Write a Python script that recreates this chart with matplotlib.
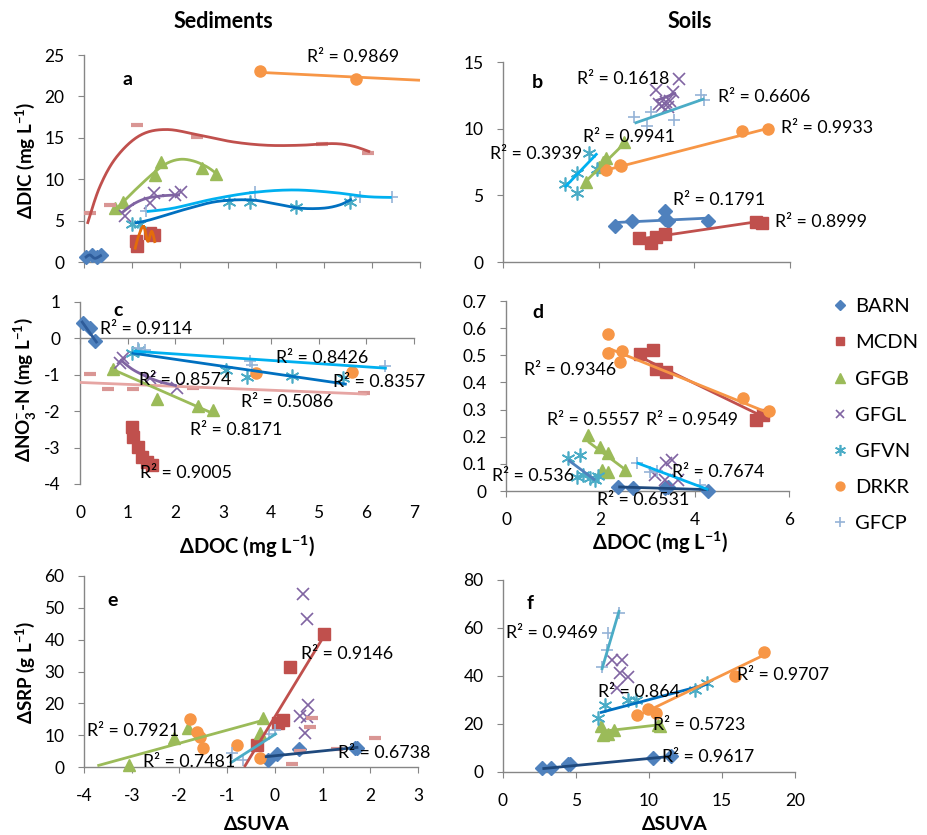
import numpy as np
import matplotlib
matplotlib.use("Agg")
import matplotlib.pyplot as plt
from matplotlib.lines import Line2D

plt.rcParams['font.family'] = ['Lato', 'DejaVu Sans']
plt.rcParams['font.size'] = 12
plt.rcParams['axes.unicode_minus'] = False
plt.rcParams['mathtext.fontset'] = 'custom'
plt.rcParams['mathtext.rm'] = 'Lato'
plt.rcParams['mathtext.bf'] = 'Lato:bold'

sites = ['BARN', 'MCDN', 'GFGB', 'GFGL', 'GFVN', 'DRKR', 'GFCP']

# --- a: sediments, DIC vs DOC ---
a_pts = {
    'BARN': ([0.05, 0.17, 0.27, 0.35], [0.6, 0.8, 0.6, 0.8]),
    'MCDN': ([1.08, 1.1, 1.38, 1.45], [2.5, 1.9, 3.5, 3.3]),
    'GFGB': ([0.65, 0.82, 1.48, 1.6, 2.45, 2.75], [6.5, 7.3, 10.5, 12.1, 11.3, 10.6]),
    'GFGL': ([0.85, 1.38, 1.46, 1.9, 2.03], [5.5, 7.1, 8.3, 8.1, 8.4]),
    'GFVN': ([1.01, 1.17, 3.03, 3.46, 4.42, 5.54], [4.6, 4.6, 7.3, 7.3, 6.6, 7.3]),
    'DRKR': ([3.67, 5.67], [23.1, 22.1]),
    'GFCP': ([1.3, 3.56, 5.75, 6.41], [6.1, 8.5, 7.9, 7.8]),
    'GFHC': ([0.13, 0.54, 1.1, 2.35, 4.95, 5.92], [5.9, 6.9, 16.6, 15.1, 14.3, 13.2]),
}
a_fit = {
    'GFHC': ([0.07, 0.33, 0.68, 1.17, 1.72, 2.42, 3.11, 3.8, 4.5, 5.19, 5.6, 5.96],
             [4.6, 9.1, 12.7, 15.3, 16.0, 15.3, 14.5, 14.1, 14.1, 14.3, 14.0, 13.3]),
    'GFGB': ([0.65, 1.03, 1.44, 1.72, 2.0, 2.28, 2.56, 2.8],
             [6.3, 8.5, 10.7, 11.9, 12.4, 12.2, 11.5, 10.5]),
    'GFGL': ([0.78, 1.03, 1.31, 1.65, 2.0], [5.9, 7.0, 7.7, 8.0, 8.1]),
    'GFVN': ([1.06, 1.38, 2.07, 2.76, 3.46, 4.01, 4.5, 4.99, 5.33, 5.58],
             [4.7, 5.1, 6.3, 7.3, 7.5, 7.0, 6.5, 6.5, 6.9, 7.6]),
    'GFCP': ([1.31, 1.86, 2.69, 3.53, 4.36, 5.19, 5.89, 6.41],
             [6.1, 6.5, 7.6, 8.4, 8.7, 8.4, 7.9, 7.8]),
    'DRKR': ([3.67, 7.0], [22.9, 21.95]),
    'MCDN': ([1.06, 1.13, 1.24, 1.33, 1.41, 1.48], [1.5, 3.0, 4.3, 2.5, 3.7, 2.3]),
    'BARN': ([0.02, 0.12, 0.23, 0.37], [0.5, 0.85, 0.45, 0.85]),
}
a_r2 = [(4.65, 24.8, '0.9869')]

# --- b: soils, DIC vs DOC ---
b_pts = {
    'BARN': ([2.35, 2.7, 3.38, 3.38, 3.45, 4.28], [2.7, 3.1, 3.8, 3.2, 3.1, 3.1]),
    'MCDN': ([2.84, 3.1, 3.19, 3.38, 5.28, 5.41], [1.83, 1.45, 1.88, 2.08, 3.03, 2.9]),
    'GFGB': ([1.74, 2.0, 2.1, 2.16, 2.54], [6.0, 7.1, 7.5, 7.8, 9.0]),
    'GFGL': ([3.2, 3.27, 3.33, 3.4, 3.45, 3.55, 3.67, 3.5],
             [12.87, 11.86, 11.7, 12.0, 11.6, 12.74, 13.74, 12.1]),
    'GFVN': ([1.29, 1.55, 1.55, 1.8, 1.96], [5.84, 6.67, 5.17, 8.2, 6.97]),
    'DRKR': ([2.16, 2.44, 2.47, 5.0, 5.55], [6.9, 7.3, 7.17, 9.8, 9.98]),
    'GFCP': ([2.73, 3.0, 3.1, 3.58, 4.14, 4.21], [10.86, 10.23, 11.24, 10.66, 12.49, 12.16]),
}
b_fit = {
    'BARN': ([2.35, 4.28], [2.96, 3.29]),
    'MCDN': ([2.82, 5.42], [1.7, 3.08]),
    'GFGB': ([1.71, 2.58], [5.97, 9.05]),
    'GFGL': ([3.2, 3.62], [12.1, 12.67]),
    'GFVN': ([1.29, 1.97], [5.6, 8.15]),
    'DRKR': ([2.16, 5.55], [6.9, 10.03]),
    'GFCP': ([2.75, 4.21], [10.41, 12.24]),
}
b_r2 = [(1.54, 13.7, '0.1618'), (4.5, 12.4, '0.6606'), (5.81, 10.07, '0.9933'),
        (1.67, 9.35, '0.9941'), (-0.27, 8.1, '0.3939'), (3.56, 4.65, '0.1791'),
        (5.69, 3.02, '0.8999')]

# --- c: sediments, NO3-N vs DOC ---
c_pts = {
    'BARN': ([0.07, 0.21, 0.31], [0.42, 0.28, -0.08]),
    'MCDN': ([1.08, 1.12, 1.22, 1.29, 1.4, 1.5], [-2.44, -2.71, -2.98, -3.25, -3.39, -3.48]),
    'GFGB': ([0.7, 1.61, 2.48, 2.79], [-0.85, -1.67, -1.85, -1.96]),
    'GFGL': ([0.84, 0.9, 1.47, 2.03], [-0.67, -0.55, -1.08, -1.35]),
    'GFVN': ([1.08, 1.22, 3.07, 3.49, 4.44, 5.52], [-0.4, -0.33, -0.88, -1.06, -1.03, -1.1]),
    'DRKR': ([3.69, 5.7], [-0.94, -0.91]),
    'GFCP': ([1.22, 1.36, 3.57, 3.6, 6.4], [-0.27, -0.31, -0.62, -0.72, -0.76]),
    'GFHC': ([0.21, 0.59, 1.12, 2.36, 5.96], [-0.99, -1.39, -1.39, -1.37, -1.51]),
}
c_fit = {
    'GFHC': ([0.0, 6.01], [-1.21, -1.53]),
    'BARN': ([0.03, 0.36], [0.48, -0.13]),
    'MCDN': ([1.05, 1.54], [-2.44, -3.57]),
    'GFGB': ([0.63, 2.8], [-0.82, -2.07]),
    'GFGL': ([0.84, 1.1, 1.4, 1.7, 2.03], [-0.58, -0.85, -1.05, -1.2, -1.3]),
    'GFVN': ([1.08, 5.59], [-0.4, -1.26]),
    'GFCP': ([1.12, 6.43], [-0.35, -0.82]),
}
c_r2 = [(0.42, 0.26, '0.9114'), (4.11, -0.55, '0.8426'), (1.24, -1.15, '0.8574'),
        (5.31, -1.21, '0.8357'), (3.37, -1.76, '0.5086'), (2.31, -2.53, '0.8171'),
        (1.26, -3.7, '0.9005')]

# --- d: soils, NO3-N vs DOC ---
d_pts = {
    'BARN': ([2.38, 2.7, 3.37, 3.44, 4.29], [0.016, 0.01, 0.01, 0.016, 0.0]),
    'MCDN': ([2.84, 3.12, 3.19, 3.4, 5.31, 5.45], [0.505, 0.52, 0.448, 0.44, 0.26, 0.28]),
    'GFGB': ([1.74, 1.99, 2.17, 2.03, 2.17, 2.52], [0.206, 0.163, 0.139, 0.077, 0.071, 0.077]),
    'GFGL': ([3.16, 3.37, 3.4, 3.51, 3.65], [0.059, 0.04, 0.102, 0.114, 0.04]),
    'GFVN': ([1.32, 1.57, 1.5, 1.64, 1.78, 1.89, 1.95],
             [0.12, 0.133, 0.05, 0.06, 0.047, 0.04, 0.055]),
    'DRKR': ([2.17, 2.17, 2.45, 2.42, 5.03, 5.58], [0.577, 0.507, 0.514, 0.477, 0.341, 0.295]),
    'GFCP': ([2.77, 3.05, 3.2, 4.11], [0.104, 0.071, 0.075, 0.022]),
}
d_fit = {
    'BARN': ([2.38, 4.29], [0.015, 0.005]),
    'MCDN': ([2.77, 5.45], [0.50, 0.274]),
    'DRKR': ([2.17, 5.59], [0.526, 0.286]),
    'GFGB': ([1.74, 2.59], [0.182, 0.071]),
    'GFVN': ([1.32, 1.89], [0.114, 0.04]),
    'GFCP': ([2.77, 4.29], [0.104, 0.005]),
}
d_r2 = [(0.39, 0.446, '0.9346'), (0.875, 0.262, '0.5557'), (2.96, 0.262, '0.9549'),
        (-0.3, 0.055, '0.536'), (3.53, 0.071, '0.7674'), (1.92, -0.033, '0.6531')]

# --- e: sediments, SRP vs SUVA ---
e_pts = {
    'BARN': ([-0.14, 0.04, 0.51, 1.69, 1.72], [2.2, 4.1, 5.6, 5.9, 6.0]),
    'MCDN': ([-0.38, 0.07, 0.18, 0.32, 1.02], [6.9, 13.9, 14.8, 31.3, 41.8]),
    'GFGB': ([-3.05, -2.11, -1.81, -0.31, -0.24], [0.6, 9.0, 12.1, 10.6, 15.3]),
    'GFGL': ([0.6, 0.67, 0.7, 0.53, 0.67, 0.63], [54.3, 46.4, 19.5, 16.0, 15.8, 10.6]),
    'DRKR': ([-1.78, -1.64, -1.57, -1.5, -0.8, -0.32], [15.0, 11.1, 9.5, 5.9, 6.8, 2.7]),
    'GFCP': ([-0.9, -0.66, -0.13, 0.01], [4.5, 2.2, 10.4, 11.6]),
    'GFHC': ([0.35, 0.53, 0.74, 0.77, 1.3, 2.1], [0.8, 5.0, 12.7, 15.5, 5.8, 9.2]),
}
e_fit = {
    'BARN': ([-0.21, 1.75], [3.2, 6.2]),
    'MCDN': ([-0.64, 1.02], [0.0, 40.9]),
    'GFGB': ([-3.72, -0.24], [0.4, 14.7]),
    'GFCP': ([-0.94, 0.04], [1.2, 10.6]),
}
e_r2 = [(0.54, 35.4, '0.9146'), (-3.93, 11.4, '0.7921'), (-2.76, 1.7, '0.7481'),
        (1.33, 4.5, '0.6738')]

# --- f: soils, SRP vs SUVA ---
f_pts = {
    'BARN': ([2.7, 3.3, 4.46, 4.6, 10.3, 11.5], [1.7, 1.7, 3.5, 3.2, 5.8, 6.5]),
    'GFGB': ([6.74, 6.86, 7.2, 7.6, 10.6, 10.74], [19.0, 15.3, 16.0, 17.6, 19.7, 19.2]),
    'GFGL': ([7.44, 8.13, 8.0, 8.58, 7.79], [46.7, 46.7, 41.1, 39.4, 34.9]),
    'GFVN': ([6.53, 6.99, 8.58, 9.14, 13.15, 13.95], [22.4, 27.9, 30.0, 30.1, 34.2, 37.0]),
    'DRKR': ([9.16, 9.95, 10.5, 15.9, 17.9], [23.6, 26.1, 24.5, 39.8, 50.2]),
    'GFCP': ([6.76, 7.1, 7.21, 7.97], [43.9, 50.8, 57.8, 66.2]),
}
f_fit = {
    'BARN': ([2.7, 11.5], [1.4, 6.5]),
    'GFGB': ([6.74, 10.74], [16.9, 19.7]),
    'GFVN': ([6.64, 14.06], [24.7, 36.7]),
    'DRKR': ([9.14, 17.9], [23.2, 48.8]),
    'GFCP': ([6.76, 7.97], [42.5, 67.5]),
}
f_r2 = [(0.2, 58, '0.9469'), (16.0, 40.4, '0.9707'), (6.48, 33.5, '0.864'),
        (10.3, 19.6, '0.5723'), (10.87, 6.4, '0.9617')]

# marker styles per site
mstyle = {
    'BARN': dict(marker='D', color='#4F81BD', ms=7),
    'MCDN': dict(marker='s', color='#C0504D', ms=8),
    'GFGB': dict(marker='^', color='#9BBB59', ms=9),
    'GFGL': dict(marker='x', color='#8064A2', ms=8, mew=1.2),
    'GFVN': dict(marker=(6, 2, 0), color='#4BACC6', ms=10, mew=1.2),
    'DRKR': dict(marker='o', color='#F79646', ms=8),
    'GFCP': dict(marker='+', color='#95B3D7', ms=9, mew=1.2),
    'GFHC': dict(marker='_', color='#D99694', ms=8, mew=3),
}

# trendline colours per panel
a_col = {'GFHC': '#C0504D', 'GFGB': '#9BBB59', 'GFGL': '#8064A2', 'GFVN': '#0070C0',
         'GFCP': '#00B0F0', 'DRKR': '#F79646', 'MCDN': '#E46C0A', 'BARN': '#2E5C9A'}
b_col = {'BARN': '#4F81BD', 'MCDN': '#C0504D', 'GFGB': '#9BBB59', 'GFGL': '#8064A2',
         'GFVN': '#00B0F0', 'DRKR': '#F79646', 'GFCP': '#4BACC6'}
c_col = {'GFHC': '#E6A5A3', 'BARN': '#2E5C9A', 'MCDN': '#C0504D', 'GFGB': '#9BBB59',
         'GFGL': '#8064A2', 'GFVN': '#0070C0', 'GFCP': '#00B0F0'}
d_col = {'BARN': '#1F497D', 'MCDN': '#C0504D', 'DRKR': '#F79646', 'GFGB': '#9BBB59',
         'GFVN': '#4F81BD', 'GFCP': '#00B0F0'}
e_col = {'BARN': '#1F497D', 'MCDN': '#C0504D', 'GFGB': '#9BBB59', 'GFCP': '#4BACC6'}
f_col = {'BARN': '#1F497D', 'GFGB': '#9BBB59', 'GFVN': '#0070C0', 'DRKR': '#F79646',
         'GFCP': '#4BACC6'}


def smooth(xs, ys, n=24):
    # Catmull-Rom curve through the trendline points
    P = np.column_stack([xs, ys]).astype(float)
    if len(P) < 3:
        return P[:, 0], P[:, 1]
    P = np.vstack([P[0], P, P[-1]])
    t = np.linspace(0, 1, n)[:, None]
    segs = []
    for i in range(1, len(P) - 2):
        p0, p1, p2, p3 = P[i - 1], P[i], P[i + 1], P[i + 2]
        segs.append(0.5 * (2 * p1 + (-p0 + p2) * t + (2 * p0 - 5 * p1 + 4 * p2 - p3) * t ** 2
                           + (-p0 + 3 * p1 - 3 * p2 + p3) * t ** 3))
    S = np.vstack(segs)
    return S[:, 0], S[:, 1]


def style_axes(ax, xlim, xticks, ylim, yticks, xlabels=True):
    ax.set_xlim(*xlim)
    ax.set_ylim(*ylim)
    ax.set_xticks(xticks)
    ax.set_yticks(yticks)
    for s in ['top', 'right']:
        ax.spines[s].set_visible(False)
    for s in ['left', 'bottom']:
        ax.spines[s].set_color('#868686')
        ax.spines[s].set_linewidth(1.0)
    ax.tick_params(direction='out', length=4, color='#868686', labelsize=12.5)
    ax.tick_params(axis='y', pad=10)
    ax.tick_params(axis='x', pad=11)
    if not xlabels:
        ax.tick_params(axis='x', labelbottom=False)


def draw(ax, pts, fits, cols, r2):
    for name, (x, y) in pts.items():
        st = dict(mstyle[name])
        ax.plot(x, y, linestyle='none', marker=st.pop('marker'), color=st.pop('color'),
                ms=st.pop('ms'), clip_on=False, zorder=3, **st)
    for name, (x, y) in fits.items():
        sx, sy = smooth(x, y)
        ax.plot(sx, sy, color=cols[name], lw=2, solid_capstyle='butt', zorder=4, clip_on=False)
    for x, y, v in r2:
        ax.text(x, y, 'R² = ' + v, fontsize=12.8, ha='left', va='center', zorder=5,
                clip_on=False)


fig = plt.figure(figsize=(9.27, 8.35), dpi=100)
W, H = 927, 835


def add_ax(l, t, r, b):
    return fig.add_axes([l / W, 1 - b / H, (r - l) / W, (b - t) / H])


ax_a = add_ax(84, 55, 420, 262)
ax_b = add_ax(503, 62, 790, 262)
ax_c = add_ax(80, 302, 414, 484)
ax_d = add_ax(506, 301, 789, 491)
ax_e = add_ax(84, 576, 418, 767)
ax_f = add_ax(503, 580, 795, 772)

style_axes(ax_a, (0, 7), range(0, 8), (0, 25), range(0, 26, 5), xlabels=False)
style_axes(ax_b, (0, 6), range(0, 7, 2), (0, 15), range(0, 16, 5), xlabels=False)
style_axes(ax_c, (0, 7), range(0, 8), (-4, 1), range(-4, 2))
style_axes(ax_d, (0, 6), range(0, 7, 2), (0, 0.7), np.arange(0, 0.71, 0.1))
style_axes(ax_e, (-4, 3), range(-4, 4), (0, 60), range(0, 61, 10))
style_axes(ax_f, (0, 20), range(0, 21, 5), (0, 80), range(0, 81, 20))

ax_d.set_yticklabels(['0', '0.1', '0.2', '0.3', '0.4', '0.5', '0.6', '0.7'])

# panel c: the horizontal axis sits at zero, its labels stay at the bottom
ax_c.spines['bottom'].set_position(('data', 0))
ax_c.tick_params(axis='x', labelbottom=False)
sec = ax_c.secondary_xaxis('bottom')
sec.set_xticks(range(0, 8))
sec.tick_params(length=0, labelsize=12.5, pad=15)
sec.spines['bottom'].set_visible(False)

draw(ax_a, a_pts, a_fit, a_col, a_r2)
draw(ax_b, b_pts, b_fit, b_col, b_r2)
draw(ax_c, c_pts, c_fit, c_col, c_r2)
draw(ax_d, d_pts, d_fit, d_col, d_r2)
draw(ax_e, e_pts, e_fit, e_col, e_r2)
draw(ax_f, f_pts, f_fit, f_col, f_r2)

for ax, letter, pos in [(ax_a, 'a', (0.128, 0.88)), (ax_b, 'b', (0.118, 0.9)),
                        (ax_c, 'c', (0.114, 0.956)), (ax_d, 'd', (0.113, 0.937)),
                        (ax_e, 'e', (0.087, 0.874)), (ax_f, 'f', (0.092, 0.88))]:
    ax.text(pos[0], pos[1], letter, transform=ax.transAxes, fontsize=14,
            fontweight='bold', ha='center', va='center')

bold = dict(fontsize=13.5, fontweight='bold', ha='center', va='center')
fig.text(223 / W, 1 - 21 / H, 'Sediments', **dict(bold, fontsize=15.5))
fig.text(690 / W, 1 - 21 / H, 'Soils', **dict(bold, fontsize=15.5))
fig.text(25 / W, 1 - 160 / H, r'ΔDIC (mg L$^{\mathbf{-1}}$)', rotation=90, **bold)
fig.text(25 / W, 1 - 390 / H, r'ΔNO$_{\mathbf{3}}^{\mathbf{-}}$-N (mg L$^{\mathbf{-1}}$)',
         rotation=90, **bold)
fig.text(25 / W, 1 - 672 / H, r'ΔSRP (g L$^{\mathbf{-1}}$)', rotation=90, **bold)
fig.text(247 / W, 1 - 547 / H, r'ΔDOC (mg L$^{\mathbf{-1}}$)', **dict(bold, fontsize=14.5))
fig.text(660 / W, 1 - 543 / H, r'ΔDOC (mg L$^{\mathbf{-1}}$)', **dict(bold, fontsize=14.5))
fig.text(257 / W, 1 - 825 / H, 'ΔSUVA', **dict(bold, fontsize=14))
fig.text(675 / W, 1 - 825 / H, 'ΔSUVA', **dict(bold, fontsize=14))

handles = []
for name in sites:
    st = dict(mstyle[name])
    handles.append(Line2D([], [], linestyle='none', marker=st.pop('marker'),
                          color=st.pop('color'), ms=st.pop('ms') * 0.8, **st))
fig.legend(handles, sites, loc='upper left', bbox_to_anchor=(832 / W, 1 - 298 / H),
           frameon=False, fontsize=14.5, handlelength=0.8, handletextpad=0.35,
           labelspacing=0.95, borderpad=0, borderaxespad=0)

fig.savefig('out.png', dpi=100)
